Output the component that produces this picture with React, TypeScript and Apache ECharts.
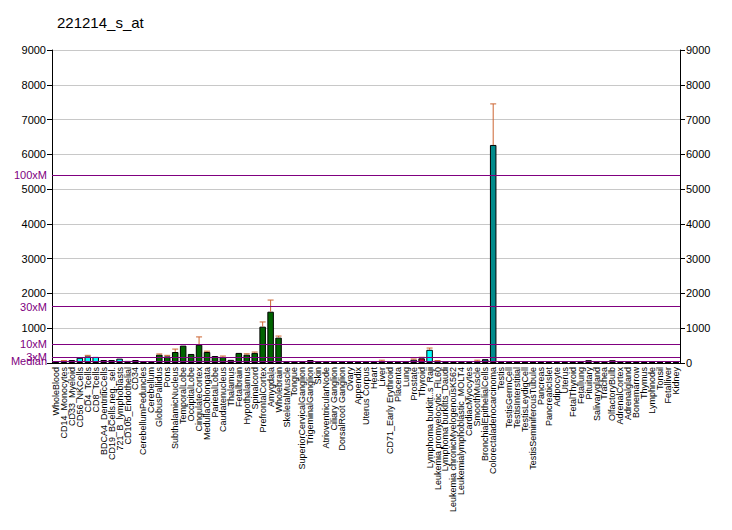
import React, { useEffect, useRef } from "react";
import * as echarts from "echarts";

const title = "221214_s_at";

const categories = [
  "WholeBlood", "CD14_Monocytes", "CD33_Myeloid", "CD56_NKCells", "CD4_Tcells", "CD8_Tcells",
  "BDCA4_DentriticCells", "CD19_BCells.neg._sel.", "721_B_lymphoblasts", "CD105_Endothelial", "CD34",
  "CerebellumPeduncles", "Cerebellum", "GlobusPallidus", "Pons", "SubthalamicNucleus", "TemporalLobe",
  "OccipitalLobe", "CingulateCortex", "MedullaOblongata", "ParietalLobe", "Caudatenucleus", "Thalamus",
  "Fetalbrain", "Hypothalamus", "Spinalcord", "PrefrontalCortex", "Amygdala", "Wholebrain",
  "SkeletalMuscle", "Tongue", "SuperiorCervicalGanglion", "TrigeminalGanglion", "Skin",
  "AtrioventricularNode", "Ciliary Ganglion", "DorsalRoot Ganglion", "Ovary", "Appendix", "Uterus Corpus",
  "Heart", "Liver", "CD71_Early Erythroid", "Placenta", "Lung", "Prostate", "Thyroid",
  "Lymphoma burkitt..s_Raji", "Leukemia promyelocytic_HL60", "Lymphoma burkitts_Daudi",
  "Leukemia chronicMyelogenousK562", "Leukemialymphoblastic_MOLT4", "CardiacMyocytes", "SmoothMuscle",
  "BronchialEpithelialCells", "Colorectaladenocarcinoma", "Testis", "TestisGermCell", "TestisInterstitial",
  "TestisLeydigCell", "TestisSeminiferousTubule", "Pancreas", "PancreaticIslet", "Adipocyte", "Uterus",
  "FetalThyroid", "Fetallung", "Pituitary", "Salivarygland", "Trachea", "OlfactoryBulb", "AdrenalCortex",
  "Adrenalgland", "Bonemarrow", "Thymus", "Lymphnode", "Tonsil", "Fetalliver", "Kidney",
];

const values = [
  50, 55, 85, 150, 190, 175, 85, 85, 125, 60, 85,
  40, 30, 240, 190, 316, 500, 260, 525, 316, 200, 175, 90, 290, 240, 290, 1045, 1475, 730,
  30, 20, 30, 85, 25, 25, 25, 25, 25, 25, 25,
  40, 50, 25, 30, 45, 95, 135, 380, 50, 25, 30, 20, 30, 50, 110, 6270,
  30, 30, 30, 30, 30, 35, 35, 30, 30, 30, 25, 80, 30, 25, 80, 35, 30, 25, 25, 25, 25, 30, 25,
];

// [category index, upper error value]
const errorBars: [number, number][] = [
  [1, 70], [4, 220], [13, 260], [14, 220], [15, 400], [18, 750], [19, 340], [21, 200],
  [24, 265], [25, 315], [26, 1180], [27, 1810], [28, 775], [41, 80], [45, 115], [46, 165],
  [47, 430], [48, 70], [53, 80], [55, 7450],
];

const barColors = [
  "#00ffff", "#00ffff", "#00ffff", "#00ffff", "#00ffff", "#00ffff", "#00ffff", "#00ffff", "#00ffff", "#00ffff", "#00ffff",
  "#006400", "#006400", "#006400", "#006400", "#006400", "#006400", "#006400", "#006400", "#006400",
  "#006400", "#006400", "#006400", "#006400", "#006400", "#006400", "#006400", "#006400", "#006400",
  "#ff99cc", "#660066", "#330033", "#660033", "#993366", "#330066", "#330033", "#330033", "#660066", "#330033", "#660066",
  "#ff9966", "#cc6666", "#660000", "#cc3366", "#ff6666", "#6666cc", "#cc0033", "#00ffff", "#00ffff", "#00ffff",
  "#00cccc", "#0000cc", "#000099", "#cc6666", "#006666", "#008b8b",
  "#cc6600", "#cc6600", "#cc6600", "#cc6600", "#cc6600", "#cc6699", "#cc99cc", "#00cccc", "#ff9966",
  "#cc00cc", "#660033", "#663366", "#660066", "#000066", "#cc0033", "#ff6699", "#cc3399", "#660066",
  "#330066", "#660066", "#330033", "#660033", "#993366",
];

const refValues = [54, 162, 540, 1620, 5400];
const refLabels = ["Median", "3xM", "10xM", "30xM", "100xM"];

const yTicks = [0, 1000, 2000, 3000, 4000, 5000, 6000, 7000, 8000, 9000];

export default function App() {
  const ref = useRef<HTMLDivElement>(null);
  useEffect(() => {
    if (!ref.current) return;
    const chart = echarts.init(ref.current, null, { renderer: "svg" });
    const font = "Arial, 'Liberation Sans', sans-serif";
    chart.setOption({
      animation: false,
      backgroundColor: "#ffffff",
      title: {
        text: title,
        left: 52,
        top: 10,
        textStyle: { fontFamily: font, fontSize: 15, fontWeight: "normal", color: "#000" },
      },
      grid: { left: 52, right: 52, top: 50, bottom: 167 },
      xAxis: {
        type: "category",
        data: categories,
        axisLine: { lineStyle: { color: "#000", width: 1 } },
        axisTick: { interval: 0, length: 6, lineStyle: { color: "#000" } },
        axisLabel: {
          interval: 0,
          rotate: 90,
          fontFamily: font,
          fontSize: 9,
          color: "#000",
          margin: 4,
        },
      },
      yAxis: [
        {
          type: "value",
          min: yTicks[0],
          max: yTicks[yTicks.length - 1],
          interval: 1000,
          position: "left",
          axisLine: { show: true, lineStyle: { color: "#000" } },
          axisTick: { show: true, length: 5, lineStyle: { color: "#000" } },
          axisLabel: {
            fontFamily: font,
            fontSize: 11,
            color: "#000",
            margin: 6,
            formatter: (v: number) => (v === 0 ? "" : String(v)),
          },
          splitLine: { show: true, lineStyle: { color: "#c8c8c8", width: 1 } },
        },
        {
          type: "value",
          min: yTicks[0],
          max: yTicks[yTicks.length - 1],
          interval: 1000,
          position: "right",
          axisLine: { show: true, lineStyle: { color: "#000" } },
          axisTick: { show: true, length: 5, lineStyle: { color: "#000" } },
          axisLabel: {
            fontFamily: font,
            fontSize: 11,
            color: "#000",
            margin: 6,
            formatter: (v: number) => String(v),
          },
          splitLine: { show: false },
        },
      ],
      series: [
        {
          type: "bar",
          yAxisIndex: 0,
          barCategoryGap: "18%",
          data: values.map((v, i) => ({
            value: v,
            itemStyle: { color: barColors[i], borderColor: "#000", borderWidth: 1 },
          })),
          markLine: {
            silent: true,
            symbol: "none",
            lineStyle: { color: "#800080", width: 1, type: "solid" },
            label: {
              show: true,
              position: "start",
              formatter: "{b}",
              color: "#800080",
              fontFamily: font,
              fontSize: 11,
              distance: 5,
            },
            data: refValues.map((v, i) => ({ yAxis: v, name: refLabels[i] })),
          },
          z: 2,
        },
        {
          type: "custom",
          yAxisIndex: 0,
          data: errorBars.map(([i, e]) => [i, values[i], e]),
          encode: { x: 0, y: [1, 2] },
          z: 3,
          renderItem: (params: any, api: any) => {
            const x = api.value(0);
            const low = api.coord([x, api.value(1)]);
            const high = api.coord([x, api.value(2)]);
            const style = { stroke: "#cc6633", lineWidth: 1 };
            return {
              type: "group",
              children: [
                { type: "line", shape: { x1: low[0], y1: low[1], x2: high[0], y2: high[1] }, style },
                { type: "line", shape: { x1: high[0] - 3, y1: high[1], x2: high[0] + 3, y2: high[1] }, style },
              ],
            };
          },
        },
      ],
    });
    return () => chart.dispose();
  }, []);
  return <div ref={ref} style={{ width: 732, height: 530, margin: -8 }} />;
}
